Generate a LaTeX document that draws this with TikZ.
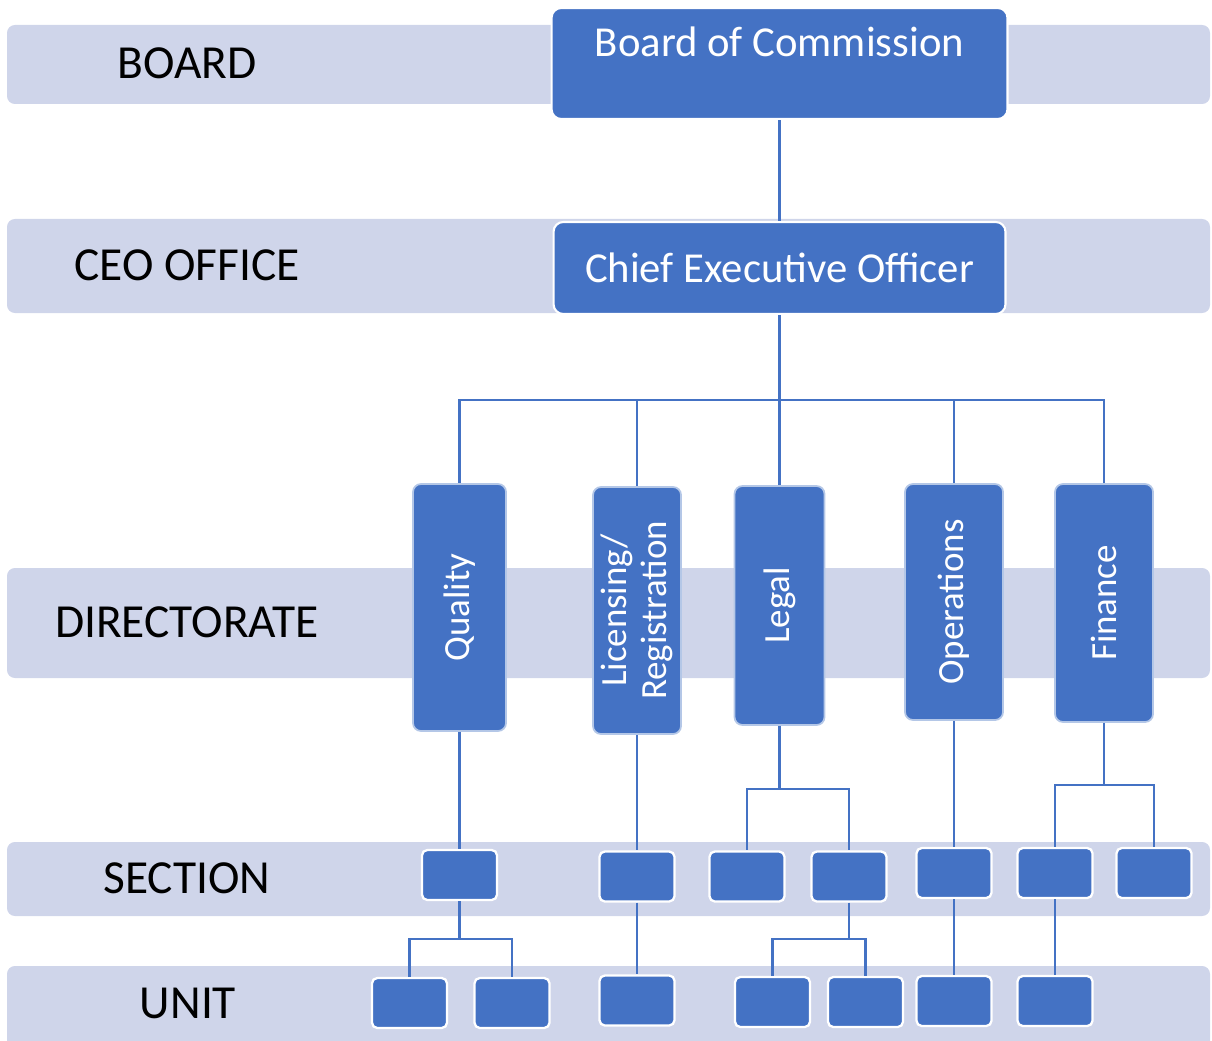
\documentclass[tikz,border=0pt]{standalone}
\usepackage{fontspec}
\setmainfont{Carlito}
\definecolor{blau}{HTML}{4472C4}
\definecolor{band}{HTML}{CFD5EA}
\tikzset{
	ebene/.style={fill=band, rounded corners=4.5pt},
	ebenentext/.style={text=black, font=\fontsize{27}{31}\selectfont},
	grossbox/.style={fill=blau, draw=white, line width=1.2pt, rounded corners=5.5pt, text=white, font=\fontsize{24.3}{28}\selectfont},
	dirbox/.style={fill=blau, draw=white!60!blau, line width=1pt, rounded corners=4.5pt, text=white, rotate=90, align=center, font=\fontsize{21}{23}\selectfont},
	kleinbox/.style={fill=blau, draw=white, line width=1.3pt, rounded corners=3pt, minimum width=1.5cm, minimum height=1cm},
	linie/.style={draw=blau, line width=1.4pt},
}
\begin{document}
\begin{tikzpicture}[x=0.02cm, y=-0.02cm]
	\useasboundingbox (0,0) rectangle (1212,1040);
	\clip (0,0) rectangle (1212,1040);

	% Ebenen (Hintergrundbalken)
	\fill[ebene] (7,25) rectangle (1210,104);
	\fill[ebene] (7,219) rectangle (1210,313);
	\fill[ebene] (7,568) rectangle (1210,678);
	\fill[ebene] (7,842) rectangle (1210,916);
	\fill[ebene] (7,966) rectangle (1210,1060);

	% Beschriftung der Ebenen
	\node[ebenentext] (tboard) at (187,63) {BOARD};
	\node[ebenentext] (tceo) at (187,265) {CEO OFFICE};
	\node[ebenentext] (tdir) at (187,622) {DIRECTORATE};
	\node[ebenentext] (tsec) at (187,878) {SECTION};
	\node[ebenentext] (tunit) at (188,1003) {UNIT};

	% Board und CEO
	\node[grossbox, minimum width=9.12cm, minimum height=2.22cm, text height=0.6cm, text depth=0.86cm] (board) at (779.5,63.5) {Board of Commission};
	\node[grossbox, minimum width=9.04cm, minimum height=1.84cm] (ceo) at (779.5,268) {Chief Executive Officer};

	% Direktorate
	\node[dirbox, minimum width=4.94cm, minimum height=1.86cm] (qual) at (459.5,607.5) {Quality};
	\node[dirbox, minimum width=4.94cm, minimum height=1.76cm] (lic) at (637,610.5) {Licensing/\\Registration};
	\node[dirbox, minimum width=4.78cm, minimum height=1.8cm] (legal) at (779.5,605.5) {Legal};
	\node[dirbox, minimum width=4.72cm, minimum height=1.96cm] (ops) at (954,602) {Operations};
	\node[dirbox, minimum width=4.76cm, minimum height=1.96cm] (fin) at (1104,603) {Finance};

	% Sektionen
	\node[kleinbox] (qsec) at (459.5,875) {};
	\node[kleinbox] (lsec) at (637,876.5) {};
	\node[kleinbox] (gsec1) at (747,876.5) {};
	\node[kleinbox] (gsec2) at (849,876.5) {};
	\node[kleinbox] (osec) at (954,873) {};
	\node[kleinbox] (fsec1) at (1055,873) {};
	\node[kleinbox] (fsec2) at (1154,873) {};

	% Units
	\node[kleinbox] (qu1) at (409.5,1003) {};
	\node[kleinbox] (qu2) at (512,1003) {};
	\node[kleinbox] (lu) at (637,1000.5) {};
	\node[kleinbox] (gu1) at (772.5,1002) {};
	\node[kleinbox] (gu2) at (865.5,1002) {};
	\node[kleinbox] (ou) at (954,1001) {};
	\node[kleinbox] (fu) at (1055,1001) {};

	% Verbindungen oben
	\draw[linie] (board) -- (ceo);
	\coordinate (cbus) at (779.5,400);
	\draw[linie] (ceo) -- (cbus);
	\foreach \d in {qual,lic,legal,ops,fin}
		\draw[linie] (cbus) -| (\d);

	% Verbindungen Direktorat -> Sektion
	\draw[linie] (qual) -- (qsec);
	\draw[linie] (lic) -- (lsec);
	\coordinate (gbus) at (779.5,789);
	\draw[linie] (legal) -- (gbus);
	\draw[linie] (gbus) -| (gsec1);
	\draw[linie] (gbus) -| (gsec2);
	\draw[linie] (ops) -- (osec);
	\coordinate (fbus) at (1104,785);
	\draw[linie] (fin) -- (fbus);
	\draw[linie] (fbus) -| (fsec1);
	\draw[linie] (fbus) -| (fsec2);

	% Verbindungen Sektion -> Unit
	\coordinate (qbus) at (459.5,939);
	\draw[linie] (qsec) -- (qbus);
	\draw[linie] (qbus) -| (qu1);
	\draw[linie] (qbus) -| (qu2);
	\draw[linie] (lsec) -- (lu);
	\coordinate (gbus2) at (849,939);
	\draw[linie] (gsec2) -- (gbus2);
	\draw[linie] (gbus2) -| (gu1);
	\draw[linie] (gbus2) -| (gu2);
	\draw[linie] (osec) -- (ou);
	\draw[linie] (fsec1) -- (fu);

\end{tikzpicture}
\end{document}
